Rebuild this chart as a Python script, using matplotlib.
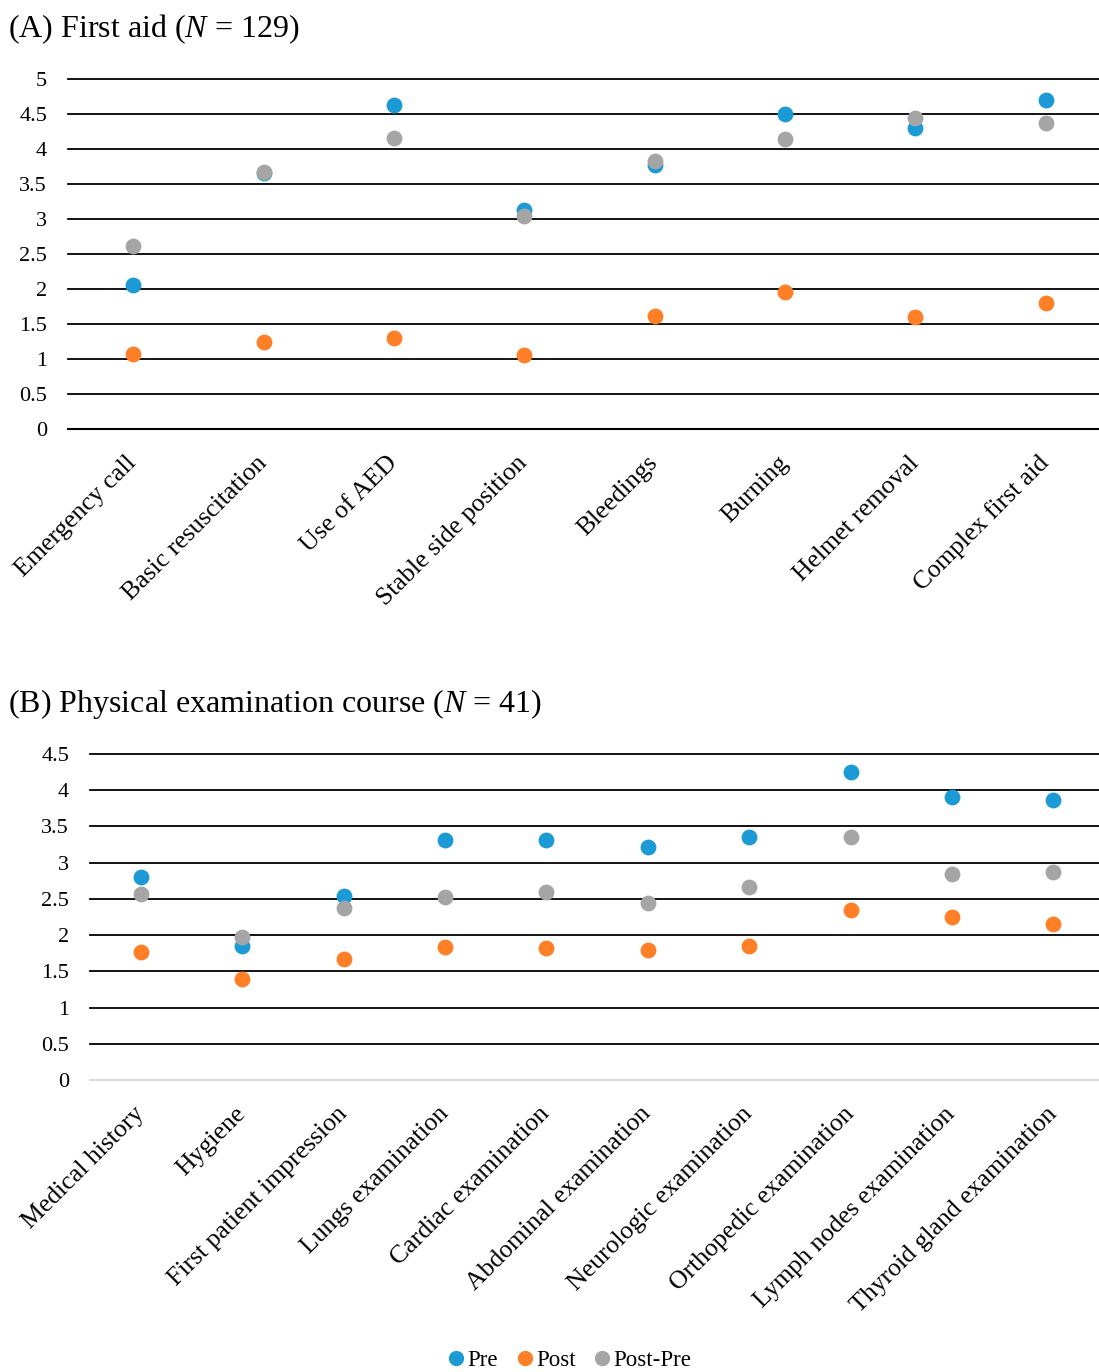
import matplotlib
matplotlib.use('Agg')
import matplotlib.pyplot as plt
from matplotlib.lines import Line2D

plt.rcParams['font.family'] = ['Liberation Serif', 'DejaVu Serif']
plt.rcParams['mathtext.fontset'] = 'custom'
plt.rcParams['mathtext.rm'] = 'Liberation Serif'
plt.rcParams['mathtext.it'] = 'Liberation Serif:italic'

# (A) First aid
cats_a = ['Emergency call', 'Basic resuscitation', 'Use of AED', 'Stable side position',
          'Bleedings', 'Burning', 'Helmet removal', 'Complex first aid']
pre_a = [2.06, 3.66, 4.63, 3.13, 3.77, 4.50, 4.30, 4.70]
post_a = [1.07, 1.24, 1.30, 1.06, 1.61, 1.96, 1.60, 1.80]
diff_a = [2.61, 3.67, 4.16, 3.04, 3.83, 4.14, 4.44, 4.37]
yticks_a = [0, 0.5, 1, 1.5, 2, 2.5, 3, 3.5, 4, 4.5, 5]

# (B) Physical examination course
cats_b = ['Medical history', 'Hygiene', 'First patient impression', 'Lungs examination',
          'Cardiac examination', 'Abdominal examination', 'Neurologic examination',
          'Orthopedic examination', 'Lymph nodes examination', 'Thyroid gland examination']
pre_b = [2.80, 1.85, 2.54, 3.31, 3.31, 3.22, 3.35, 4.25, 3.91, 3.87]
post_b = [1.77, 1.39, 1.67, 1.84, 1.82, 1.79, 1.85, 2.35, 2.25, 2.15]
diff_b = [2.57, 1.97, 2.37, 2.53, 2.60, 2.44, 2.66, 3.35, 2.84, 2.87]
yticks_b = [0, 0.5, 1, 1.5, 2, 2.5, 3, 3.5, 4, 4.5]

series_names = ['Pre', 'Post', 'Post-Pre']
colors = ['#1C9AD6', '#FF7F27', '#A5A5A5']

W, H = 1099, 1372
fig = plt.figure(figsize=(W / 100, H / 100), dpi=100)


def panel(rect, cats, vals, yticks, xmax, zero_color):
    ax = fig.add_axes(rect)
    x = range(len(cats))
    for v, c in zip(vals, colors):
        ax.scatter(x, v, s=130, color=c, zorder=3, linewidths=0)
    ax.set_ylim(yticks[0], yticks[-1])
    ax.set_xlim(-0.5, xmax)
    ax.set_yticks(yticks)
    ax.set_yticklabels([('%g' % t) for t in yticks], fontsize=16)
    ax.set_xticks(list(x))
    ax.set_xticklabels(cats, rotation=45, ha='right', va='center', rotation_mode='anchor',
                       fontsize=18.5)
    ax.tick_params(axis='both', length=0)
    ax.tick_params(axis='y', pad=15)
    ax.tick_params(axis='x', pad=22)
    for s in ax.spines.values():
        s.set_visible(False)
    ax.yaxis.grid(True, color='black', linewidth=1.3)
    for gl in ax.get_ygridlines():
        gl.set_clip_on(False)
    ax.set_axisbelow(True)
    ax.axhline(0, color=zero_color, linewidth=1.5, zorder=1, clip_on=False)
    return ax


ax_a = panel([68 / W, 1 - 429 / H, 1 - 68 / W, 350 / H], cats_a,
             [pre_a, post_a, diff_a], yticks_a, 7.41, 'black')
ax_b = panel([90 / W, 1 - 1080 / H, 1 - 90 / W, 326 / H], cats_b,
             [pre_b, post_b, diff_b], yticks_b, 9.45, '#D9D9D9')

fig.text(8 / W, 1 - 29 / H, r'(A) First aid ($\mathit{N}$ = 129)', fontsize=23, va='center', ha='left')
fig.text(8 / W, 1 - 704 / H, r'(B) Physical examination course ($\mathit{N}$ = 41)', fontsize=23,
         va='center', ha='left')

handles = [Line2D([], [], marker='o', linestyle='none', markersize=11, color=c, markeredgewidth=0)
           for c in colors]
fig.legend(handles, series_names, loc='center', bbox_to_anchor=(0.518, 1 - 1360 / H), ncol=3,
           frameon=False, fontsize=16.5, handlelength=0.8, handletextpad=0.1, columnspacing=0.75,
           borderpad=0)

fig.savefig('out.png', dpi=100)
